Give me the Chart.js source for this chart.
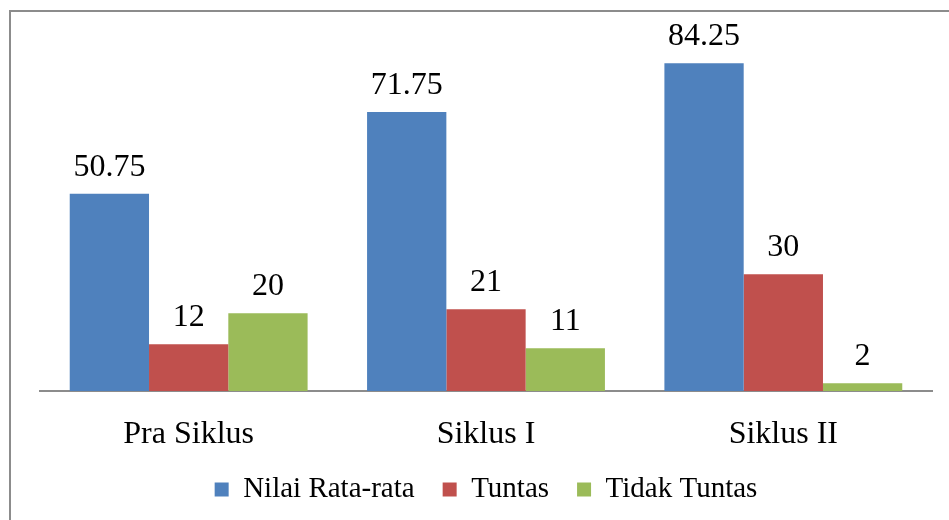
<!DOCTYPE html>
<html>
<head>
<meta charset="utf-8">
<script src="https://cdn.jsdelivr.net/npm/chart.js"></script>
<style>
  html, body { margin: 0; padding: 0; background: #fff; }
  #wrap { position: relative; width: 949px; height: 520px; overflow: hidden; }
  #frame { position: absolute; left: 9px; top: 10px; width: 960px; height: 540px; border: 2px solid #8c8c8c; box-sizing: border-box; }
  #chart { position: absolute; left: 0; top: 0; }
</style>
</head>
<body>
<div id="wrap">
  <div id="frame"></div>
  <canvas id="chart" width="949" height="520"></canvas>
</div>
<script>
const categories = ['Pra Siklus', 'Siklus I', 'Siklus II'];
const nilaiRataRata = [50.75, 71.75, 84.25];
const tuntas = [12, 21, 30];
const tidakTuntas = [20, 11, 2];

const serif = '"Liberation Serif", "Times New Roman", serif';
Chart.defaults.color = '#000';
Chart.defaults.font.family = serif;

// value labels above each bar
const valueLabels = {
  id: 'valueLabels',
  afterDatasetsDraw(chart) {
    const ctx = chart.ctx;
    ctx.save();
    ctx.font = '32px ' + serif;
    ctx.fillStyle = '#000';
    ctx.textAlign = 'center';
    ctx.textBaseline = 'alphabetic';
    chart.data.datasets.forEach((ds, i) => {
      chart.getDatasetMeta(i).data.forEach((bar, j) => {
        ctx.fillText(String(ds.data[j]), bar.x, bar.y - 18);
      });
    });
    ctx.restore();
  }
};

new Chart(document.getElementById('chart'), {
  type: 'bar',
  data: {
    labels: categories,
    datasets: [
      { label: 'Nilai Rata-rata', data: nilaiRataRata, backgroundColor: '#4F81BD' },
      { label: 'Tuntas', data: tuntas, backgroundColor: '#C0504D' },
      { label: 'Tidak Tuntas', data: tidakTuntas, backgroundColor: '#9BBB59' }
    ]
  },
  options: {
    responsive: false,
    animation: false,
    datasets: { bar: { categoryPercentage: 0.8, barPercentage: 1.0, borderWidth: 0 } },
    layout: { padding: { left: 40, right: 17, top: 41, bottom: 6 } },
    scales: {
      x: {
        grid: { display: false, drawTicks: false },
        border: { display: true, color: '#8c8c8c', width: 2 },
        ticks: { font: { size: 32 }, padding: 24, color: '#000' },
        // keep the axis box just tall enough for the labels
        afterFit(scale) { scale.height = 56; }
      },
      y: {
        display: false,
        min: 0,
        max: 90
      }
    },
    plugins: {
      legend: {
        position: 'bottom',
        labels: { boxWidth: 14, boxHeight: 14, padding: 28, font: { size: 29 }, color: '#000' }
      },
      tooltip: { enabled: false }
    }
  },
  plugins: [valueLabels]
});
</script>
</body>
</html>
